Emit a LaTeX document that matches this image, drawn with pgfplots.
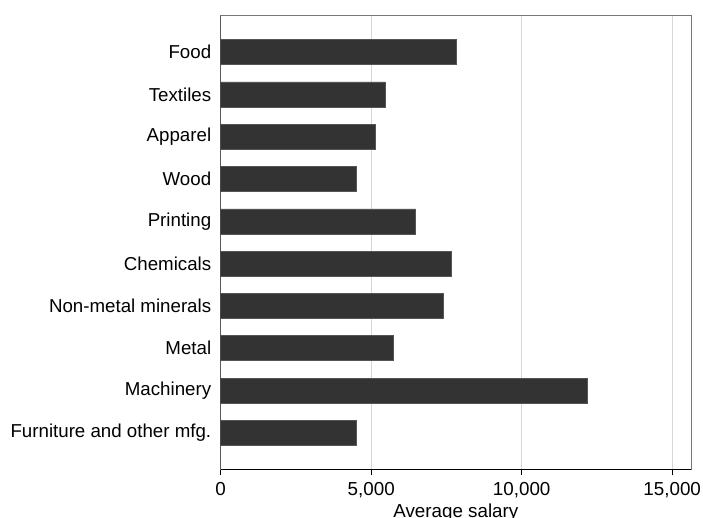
\documentclass[border=0pt]{standalone}
\usepackage{fontspec}
\setmainfont{Liberation Sans}
\usepackage{pgfplots}
\pgfplotsset{compat=1.18}
\definecolor{barfill}{HTML}{333333}
\definecolor{baredge}{HTML}{555555}
\definecolor{gridc}{HTML}{D6D6D6}
\definecolor{framec}{HTML}{777777}
\begin{document}
\begin{tikzpicture}
\begin{axis}[
  name=ax,
  scale only axis,
  width=470.3bp, height=453.6bp,
  xbar, bar width=25bp,
  xmin=0, xmax=15625,
  ymin=-0.86, ymax=9.86,
  y dir=reverse,
  ytick={0,...,9},
  yticklabels={Food,Textiles,Apparel,Wood,Printing,Chemicals,Non-metal minerals,Metal,Machinery,Furniture and other mfg.},
  ytick style={draw=none},
  yticklabel style={xshift=0bp, font=\fontsize{18.7bp}{22bp}\selectfont},
  xtick={0,5000,10000,15000},
  xtick pos=bottom,
  tick align=outside,
  major tick length=6bp,
  xtick style={black, line width=0.8bp},
  xticklabel style={yshift=-4bp, font=\fontsize{18.8bp}{22bp}\selectfont},
  /pgf/number format/assume math mode=true,
  /pgf/number format/1000 sep={,},
  scaled x ticks=false,
  xmajorgrids,
  grid style={gridc, line width=1.3bp},
  axis line style={framec, line width=1bp},
  label style={font=\fontsize{18.8bp}{22bp}\selectfont},
  xlabel={Average salary},
  xlabel style={yshift=1bp},
]
\addplot[fill=barfill, draw=baredge, line width=0.6bp] coordinates {
  (7840,0) (5470,1) (5137,2) (4505,3) (6478,4)
  (7661,5) (7385,6) (5748,7) (12180,8) (4505,9)
};
\draw[black!85, line width=1.2bp] (axis cs:0,-0.86) -- (axis cs:0,9.86);
\draw[black, line width=1.4bp] (axis cs:0,9.86) -- (axis cs:15625,9.86);
\end{axis}
\pgfresetboundingbox
\path[use as bounding box] ([xshift=-220.7bp,yshift=-48.7bp]ax.south west) rectangle ([xshift=12bp,yshift=15.7bp]ax.north east);
\end{tikzpicture}
\end{document}
